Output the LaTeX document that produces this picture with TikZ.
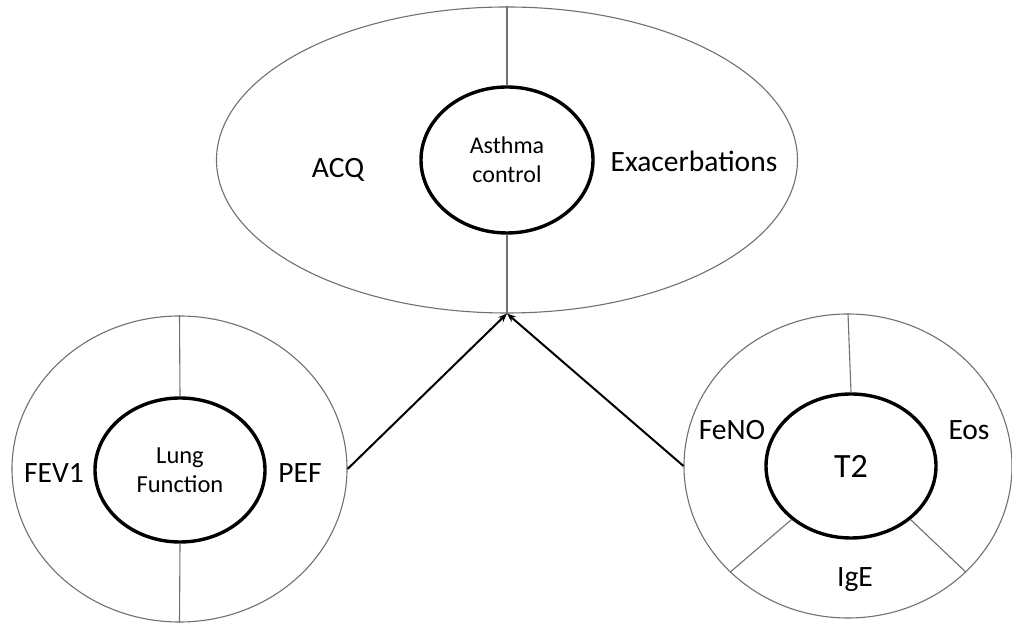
\documentclass[tikz,border=0pt]{standalone}
\usepackage{fontspec}
\setmainfont{Carlito}
\usetikzlibrary{shapes.geometric,arrows.meta}
\definecolor{rimgray}{HTML}{707070}
\tikzset{
  x=1pt,y=1pt,
  outerell/.style={ellipse,draw=rimgray,line width=1.1pt,inner sep=0pt},
  innerell/.style={ellipse,draw=black,line width=3.4pt,inner sep=0pt,align=center},
  divider/.style={draw=rimgray,line width=1.1pt},
  lbl/.style={anchor=base,inner sep=0pt,font=\fontsize{29.5}{35}\selectfont},
  link/.style={draw=black,line width=2pt,-{Stealth[length=9pt,width=7pt]}},
}
\begin{document}
\begin{tikzpicture}
\useasboundingbox (0,0) rectangle (1012,623);
% top ellipse
\node[outerell,minimum width=581,minimum height=306] (acOut) at (507,463) {};
\node[innerell,minimum width=172,minimum height=146,font=\fontsize{24}{29}\selectfont] (acIn) at (507,463) {Asthma\\control};
\draw[divider] (acOut.north) -- (acIn.north);
\draw[divider] (acIn.south) -- (acOut.south);
\node[lbl] (acq) at (338,445) {ACQ};
\node[lbl] (exa) at (694,451) {Exacerbations};
% lung function
\node[outerell,minimum width=335,minimum height=306] (lfOut) at (179.5,154) {};
\node[innerell,minimum width=170,minimum height=144,font=\fontsize{24.5}{29}\selectfont] (lfIn) at (180,153) {Lung\\Function};
\draw[divider] (lfOut.north) -- (lfIn.north);
\draw[divider] (lfIn.south) -- (lfOut.south);
\node[lbl] (fev) at (54,140) {FEV1};
\node[lbl] (pef) at (300,140) {PEF};
% T2
\node[outerell,minimum width=328,minimum height=304] (t2Out) at (848,157) {};
\node[innerell,minimum width=170,minimum height=144,font=\fontsize{34}{40}\selectfont] (t2In) at (851,157) {T2};
\draw[divider] (t2Out.north) -- (t2In.north);
\draw[divider] (t2In.-138) -- (t2Out.-138);
\draw[divider] (t2In.-42) -- (t2Out.-42);
\node[lbl] (feno) at (732,183) {FeNO};
\node[lbl] (eos) at (969,183) {Eos};
\node[lbl] (ige) at (855,36) {IgE};
% arrows
\draw[link] (lfOut.east) -- (acOut.south);
\draw[link] (t2Out.west) -- (acOut.south);
\end{tikzpicture}
\end{document}
